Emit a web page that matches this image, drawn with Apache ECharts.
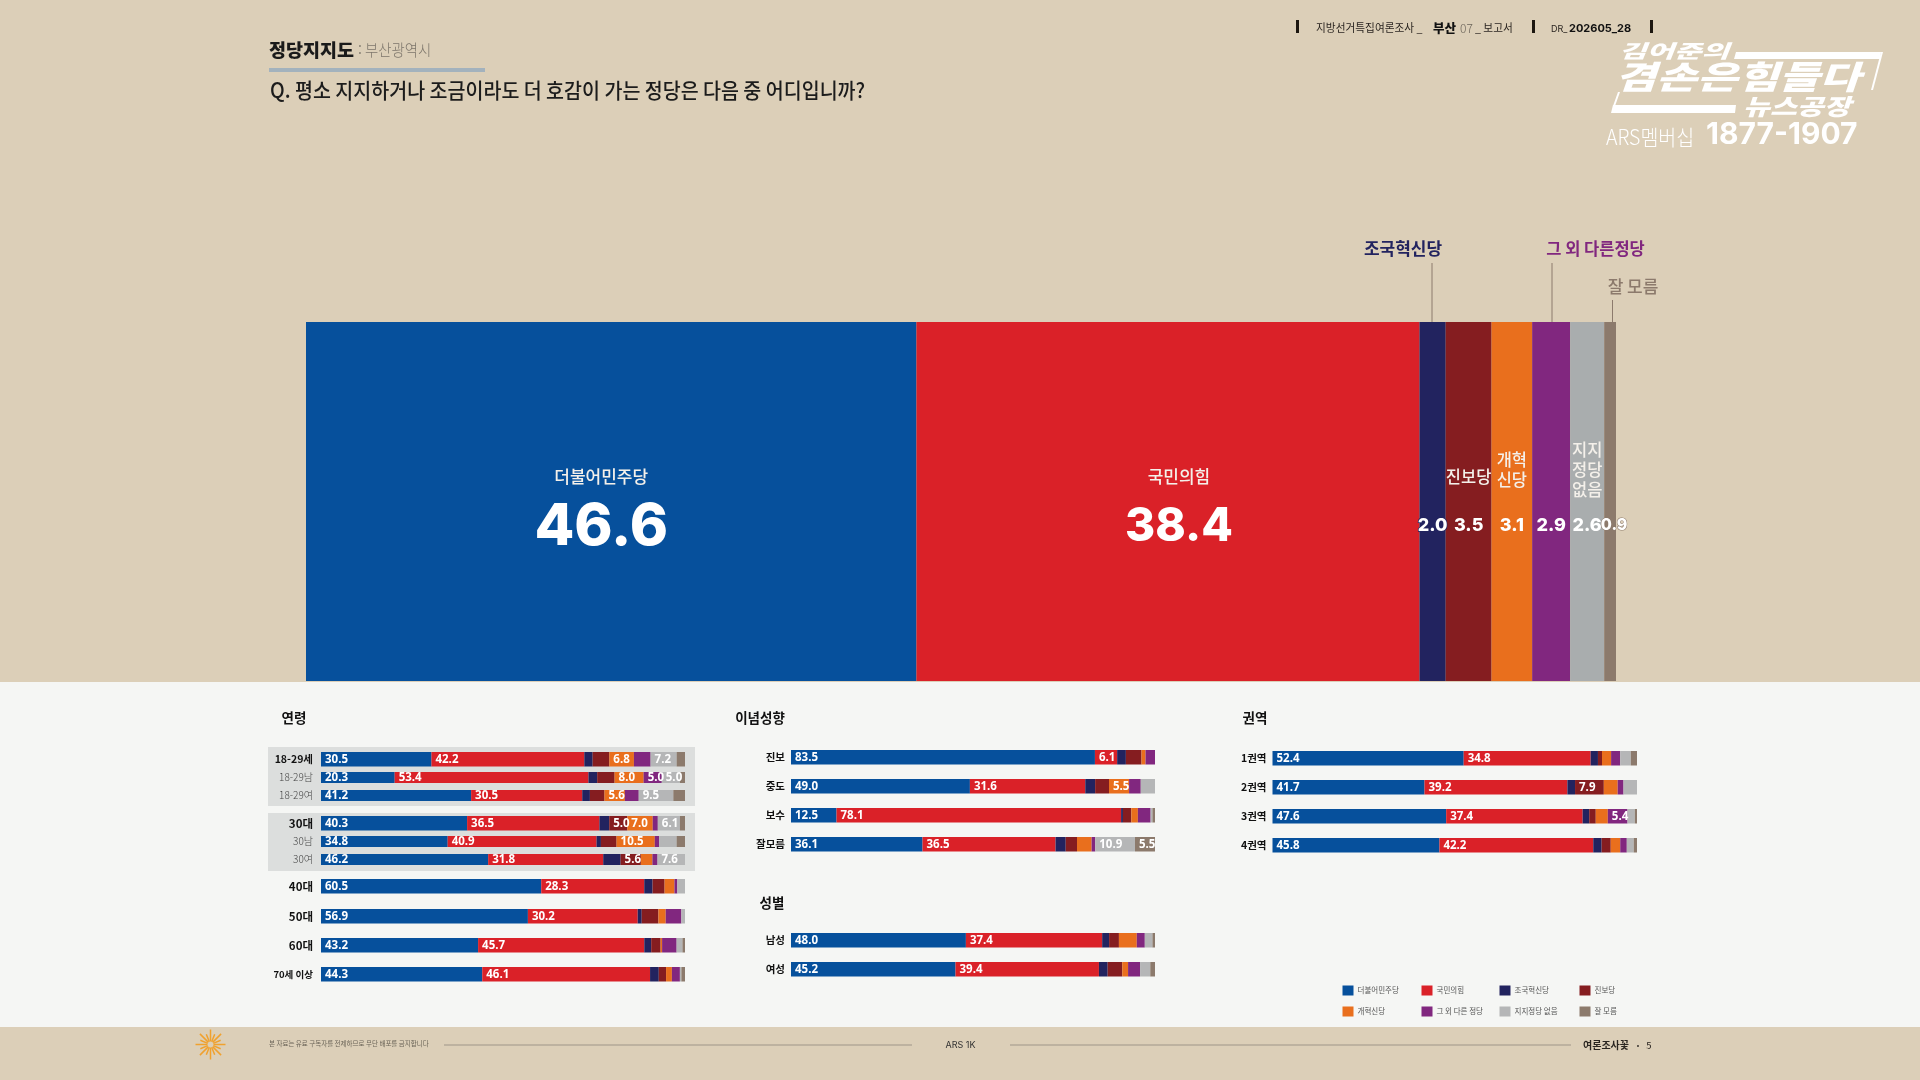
<!DOCTYPE html>
<html lang="ko"><head><meta charset="utf-8">
<style>html,body{margin:0;padding:0;background:#dccfb8}#c{width:1920px;height:1080px}</style>
<script src="https://cdn.jsdelivr.net/npm/echarts@6/dist/echarts.min.js"></script>
</head><body><div id="c"></div>
<script>
const parties = ['더불어민주당','국민의힘','조국혁신당','진보당','개혁신당','그 외 다른 정당','지지정당 없음','잘 모름'];
const partyColors = ['#06509c','#da2128','#22235f','#851d20','#e96f1d','#81277f','#a9adae','#8c7a6c'];
const smallGray = '#b5b6b7';

const bigValues = [46.6,38.4,2.0,3.5,3.1,2.9,2.6,0.9];
const bigNames = ['더불어민주당','국민의힘','','진보당','개혁\n신당','','지지\n정당\n없음',''];

const ageRows = ['18-29세','18-29남','18-29여','30대','30남','30여','40대','50대','60대','70세 이상'];
const ageValues = [
  [30.5,42.2,2.3,4.6,6.8,4.6,7.2,2.3],
  [20.3,53.4,2.4,4.8,8.0,5.0,5.0,1.4],
  [41.2,30.5,2.1,4.0,5.6,3.8,9.5,3.2],
  [40.3,36.5,2.7,5.0,7.0,1.4,6.1,1.4],
  [34.8,40.9,1.2,4.3,10.5,1.2,4.8,2.3],
  [46.2,31.8,4.8,5.6,3.2,1.4,7.6,0],
  [60.5,28.3,2.3,3.3,2.7,0.8,2.1,0],
  [56.9,30.2,1.1,4.6,2.0,4.3,1.0,0],
  [43.2,45.7,1.9,2.6,0.4,4.0,1.6,0.7],
  [44.3,46.1,2.4,2.0,1.6,2.2,0.4,1.0]
];
const ideologyRows = ['진보','중도','보수','잘모름'];
const ideologyValues = [
  [83.5,6.1,2.4,4.3,1.1,2.6,0,0],
  [49.0,31.6,2.7,3.8,5.5,3.2,3.9,0],
  [12.5,78.1,0.5,2.3,1.8,3.5,0.5,0.7],
  [36.1,36.5,2.8,3.1,4.0,1.0,10.9,5.5]
];
const genderRows = ['남성','여성'];
const genderValues = [
  [48.0,37.4,1.9,2.7,4.9,2.2,2.1,0.7],
  [45.2,39.4,2.4,4.0,1.6,3.3,2.8,1.3]
];
const regionRows = ['1권역','2권역','3권역','4권역'];
const regionValues = [
  [52.4,34.8,2.0,1.1,2.5,2.5,2.9,1.7],
  [41.7,39.2,2.1,7.9,3.8,1.6,3.7,0],
  [47.6,37.4,1.8,1.8,3.3,5.4,2.0,0.6],
  [45.8,42.2,2.3,2.5,2.6,1.8,1.9,0.9]
];

/* layout only */
const ageTops = [752,772,790,816,836,854,879,909,938,967];
const ageHeights = [14.5,11,11,14.5,11,11,14.5,14.5,14.5,14.5];
const ageBold = [1,0,0,1,0,0,1,1,1,1];
const ageFontSizes = [10.5,10,10,11.5,10,10,11.5,11.5,11.5,9.5];
const bigNameShiftX = [-10,11,0,0,0,0,0,0];
const bigNumberSizes = [58,46,18,18,18,18,18,16];
const sansKR = '"Noto Sans CJK KR","Noto Sans",sans-serif';
const numFont = 'Inter,"Open Sans",sans-serif';
const smallNumFont = '"Open Sans",Inter,sans-serif';

const grids=[], xAxes=[], yAxes=[], series=[];
function addRow(name, values, left, top, height, width, bold, labelMargin, fontSize){
  const g = grids.length;
  grids.push({left, top, width, height, containLabel:false});
  xAxes.push({gridIndex:g, type:'value', min:0, max:values.reduce((a,b)=>a+b,0), show:false});
  yAxes.push({gridIndex:g, type:'category', data:[name], axisLine:{show:false}, axisTick:{show:false},
    axisLabel:{margin:labelMargin, fontFamily:sansKR, fontSize, fontWeight:bold?700:300, color:bold?'#111':'#444'}});
  values.forEach((v,i)=>series.push({
    name:parties[i], type:'bar', xAxisIndex:g, yAxisIndex:g, stack:'row'+g, barWidth:'100%', data:[v], silent:true,
    itemStyle:{color:i===6?smallGray:partyColors[i]},
    label:{show:v>=5, position:'insideLeft', distance:4, color:'#fff', fontFamily:smallNumFont, fontWeight:700, fontSize:11.5,
      formatter:p=>p.value.toFixed(1)}
  }));
}
ageRows.forEach((r,i)=>addRow(r,ageValues[i],321,ageTops[i],ageHeights[i],364,ageBold[i],8,ageFontSizes[i]));
[750,779,808,837].forEach((t,i)=>addRow(ideologyRows[i],ideologyValues[i],791,t,14.5,364,1,6,10.5));
[933,962].forEach((t,i)=>addRow(genderRows[i],genderValues[i],791,t,14.5,364,1,6,10.5));
[751,780,809,838].forEach((t,i)=>addRow(regionRows[i],regionValues[i],1272.5,t,14.5,364.5,1,6,10.5));

/* big bar: value labels in one grid, party names in an identical transparent one */
const gBig = grids.length;
[0,1].forEach(k=>{
  grids.push({left:306,top:322,width:1310,height:359});
  xAxes.push({gridIndex:gBig+k,type:'value',min:0,max:100,show:false});
  yAxes.push({gridIndex:gBig+k,type:'category',data:['전체'],show:false});
});
bigValues.forEach((v,i)=>{
  const wide = v>10, tiny = v<1;
  series.push({name:parties[i],type:'bar',xAxisIndex:gBig,yAxisIndex:gBig,stack:'big',barWidth:'100%',data:[v],silent:true,
    itemStyle:{color:partyColors[i]},
    label:{show:true,position:'inside',offset:[bigNameShiftX[i]+(tiny?4:0),wide?26:24],color:'#fff',fontFamily:numFont,fontWeight:800,
      fontSize:bigNumberSizes[i],textBorderColor:wide?'transparent':partyColors[i],textBorderWidth:wide?0:(tiny?1:1.5),
      formatter:p=>p.value.toFixed(1)}});
  const lines = bigNames[i].split('\n').length;
  series.push({name:'이름'+i,type:'bar',xAxisIndex:gBig+1,yAxisIndex:gBig+1,stack:'bigName',barWidth:'100%',data:[v],silent:true,
    itemStyle:{color:'rgba(0,0,0,0)'},
    label:{show:bigNames[i]!=='',position:'inside',offset:[bigNameShiftX[i],lines>1?-31.5:-25],color:'#f4f0ea',fontFamily:sansKR,fontWeight:500,
      fontSize:wide?17:16.5,lineHeight:20,formatter:()=>bigNames[i]}});
});

/* legend: one library legend per entry */
const legX=[1342.5,1421.5,1499.5,1579.5], legY=[985.5,1006.5];
const legends = parties.map((p,i)=>({data:[p],left:legX[i%4],top:legY[i<4?0:1],padding:0,itemGap:0,itemWidth:11,itemHeight:10,
  selectedMode:false,icon:'rect',textStyle:{fontFamily:sansKR,fontSize:7.5,color:'#555',padding:[0,0,0,-1]}}));
legends.forEach((l,i)=>{ if(i===6) l.itemStyle={color:smallGray}; });

/* page furniture */
const T=(text,x,y,size,o={})=>({type:'text',x,y,z:5,silent:true,scaleX:o.sx||1,scaleY:o.sy||1,
  style:{text,fontSize:size,fontWeight:o.w||400,fontStyle:o.it?'italic':'normal',fontFamily:o.f||sansKR,fill:o.c||'#222',
  align:o.a||'left',verticalAlign:'middle',opacity:o.op==null?1:o.op}});
const R=(x,y,w,h,c,z=-1)=>({type:'rect',shape:{x,y,width:w,height:h},style:{fill:c},z,silent:true});
const L=(x1,y1,x2,y2,c,w=1)=>({type:'line',shape:{x1,y1,x2,y2},style:{stroke:c,lineWidth:w},z:5,silent:true});
const P=(pts,c)=>({type:'polygon',shape:{points:pts},style:{fill:c},z:5,silent:true});
const graphics=[
  R(0,682,1920,345,'#f5f6f4',-3),
  R(268,747,427,59,'#dcdedd',-2),
  R(268,813,427,58,'#dcdedd',-2),
  T('정당지지도',269,50,18.5,{w:900,c:'#1a1a1a',sx:1}),
  T(':',358,50,14,{c:'#8b8377'}),
  T('부산광역시',365,50,15.5,{w:300,c:'#7d766b',sx:.93}),
  R(269,68,216,4,'#a3b2bd',1),
  T('Q. 평소 지지하거나 조금이라도 더 호감이 가는 정당은 다음 중 어디입니까?',270,90,21,{w:500,c:'#1c1c1c',sx:.93}),
  R(1296,20,3,13,'#1c1710',1), R(1532,20,3,13,'#1c1710',1), R(1650,20,3,13,'#1c1710',1),
  T('지방선거특집여론조사 _',1316,28,11,{w:400,c:'#2a2520',sx:.97}),
  T('부산',1433,28,12.5,{w:900,c:'#111'}),
  T('07',1460,28,12,{w:300,c:'#6c655a'}),
  T('_ 보고서',1475,28,11,{c:'#2a2520',sx:.97}),
  T('DR_',1551,29,9,{f:numFont,c:'#2a2520'}),
  T('202605_28',1569,29,11,{f:numFont,w:700,c:'#111'}),
  /* logo */
  T('김어준의',1619,51,22,{w:900,it:1,c:'#fff',sx:1.36,sy:.85}),
  P([[1736,52],[1881,52],[1880,59],[1734,59]],'#fff'),
  P([[1881,52],[1883,52],[1873,90],[1871,90]],'#fff'),
  T('겸손은힘들다',1615,77,38,{w:900,it:1,c:'#fff',sx:1.17,sy:.85}),
  T('뉴스공장',1743,106,25,{w:900,it:1,c:'#fff',sx:1.17,sy:.9}),
  P([[1613,105],[1736,105],[1735,113],[1611,113]],'#fff'),
  P([[1618,92],[1620,92],[1615,106],[1613,106]],'#fff'),
  T('ARS멤버십',1606,137,21,{w:300,c:'#fff',sx:.93}),
  T('1877-1907',1706,135,30,{f:numFont,w:700,c:'#fff'}),
  /* callouts */
  T('조국혁신당',1403,249,17,{w:700,a:'center',c:'#22235f'}),
  T('그 외 다른정당',1595.5,249,16.5,{w:700,a:'center',c:'#81277f'}),
  T('잘 모름',1633,287,17,{w:500,a:'center',c:'#8c7a6c'}),
  L(1432,263,1432,322,'#8c7a6c'), L(1552,263,1552,322,'#8c7a6c'), L(1612.5,300,1612.5,322,'#8c7a6c'),
  /* section heads */
  T('연령',294,718,13.5,{w:700,a:'center',c:'#111'}),
  T('이념성향',760,718,13.5,{w:700,a:'center',c:'#111'}),
  T('성별',772,903,13.5,{w:700,a:'center',c:'#111'}),
  T('권역',1255,718,13.5,{w:700,a:'center',c:'#111'}),
  /* footer */
  T('본 자료는 유료 구독자를 전제하므로 무단 배포를 금지합니다',269,1044,6.5,{c:'#6b6558'}),
  L(444,1045,912,1045,'#b3a898',1.5),
  T('ARS 1K',960.5,1045,9,{a:'center',c:'#333',f:numFont}),
  L(1010,1045,1571,1045,'#b3a898',1.5),
  T('여론조사꽃',1583,1045,10,{w:700,c:'#2a2520'}),
  T('•',1638,1045,7,{c:'#2a2520',a:'center'}),
  T('5',1649,1045,9.5,{c:'#2a2520',a:'center'})
];
for(let k=0;k<16;k++){
  const a=k*Math.PI/8, r=k%2?11:15;
  graphics.push(L(210.5+3*Math.cos(a),1044.5+3*Math.sin(a),210.5+r*Math.cos(a),1044.5+r*Math.sin(a),'#f0a12e',1.5));
}

const chart = echarts.init(document.getElementById('c'),null,{renderer:'canvas'});
chart.setOption({animation:false,backgroundColor:'#dccfb8',tooltip:{show:false},
  grid:grids,xAxis:xAxes,yAxis:yAxes,series,legend:legends,graphic:{elements:graphics}});
</script></body></html>
